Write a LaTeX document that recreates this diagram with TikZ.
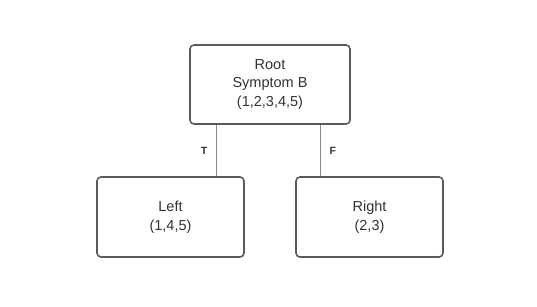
\documentclass[tikz,border=0pt]{standalone}
\usepackage{fontspec}
\setmainfont{Liberation Sans}
\usepackage{xcolor}
\usetikzlibrary{positioning,calc}
\definecolor{Ink}{HTML}{333333}
\definecolor{Edge}{HTML}{5A5A5A}
\definecolor{Wire}{HTML}{8A8A8A}

\begin{document}
\begin{tikzpicture}[x=1pt,y=-1pt]
\tikzset{treebox/.style={rounded corners=4pt,line width=1.6pt,draw=Edge,fill=white,text=Ink,align=center,inner sep=0pt,font=\fontsize{14.5}{18.5}\selectfont}, wire/.style={line width=1.2pt,Wire}, tflag/.style={text=Ink,font=\fontsize{10.5}{12}\selectfont\bfseries}}
\useasboundingbox (0,0) rectangle (537,306);
\node[treebox,minimum width=160pt,minimum height=79pt] (root) at (270,84.5) {Root\\Symptom B\\(1,2,3,4,5)};
\node[treebox,minimum width=147pt,minimum height=80pt] (left) at (170.5,217) {Left\\(1,4,5)};
\node[treebox,minimum width=147pt,minimum height=80pt] (right) at (369.5,217) {Right\\(2,3)};
\draw[wire] ([xshift=27pt]root.south west) -- node[tflag,left=5pt] {T} ([xshift=27pt]root.south west |- left.north);
\draw[wire] ([xshift=-30pt]root.south east) -- node[tflag,right=5pt] {F} ([xshift=-30pt]root.south east |- right.north);
\end{tikzpicture}
\end{document}
